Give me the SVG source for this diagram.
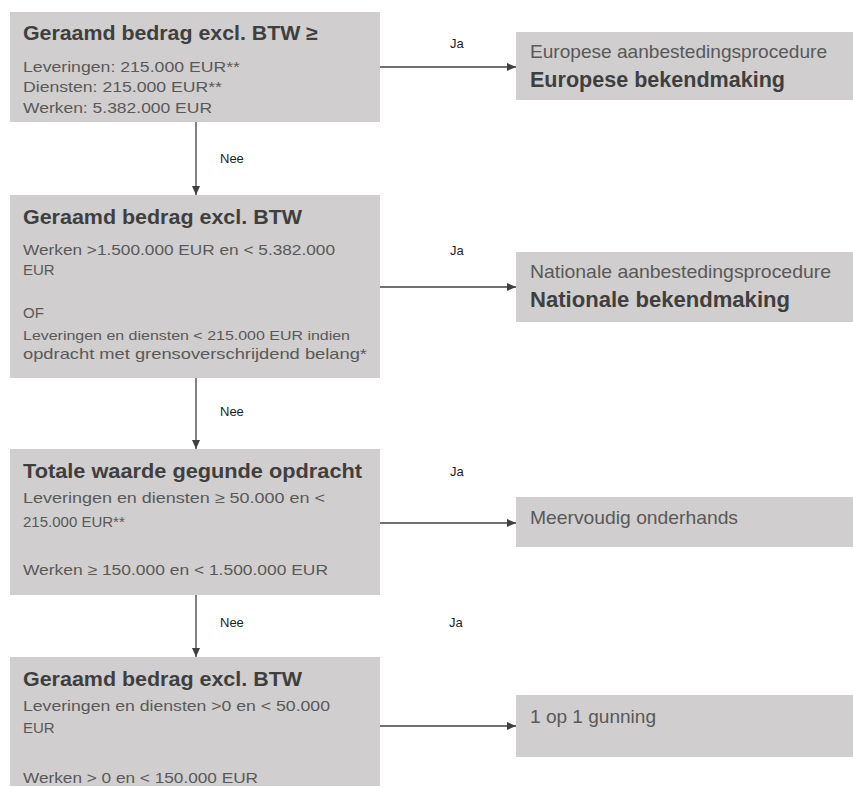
<svg xmlns="http://www.w3.org/2000/svg" width="853" height="787" viewBox="0 0 853 787">
<defs>
<style>
.box{fill:#d0cece}
.t{font-family:"Liberation Sans",Arial,sans-serif;font-weight:bold;font-size:20px;fill:#3f3f3f}
.b{font-family:"Liberation Sans",Arial,sans-serif;font-size:15px;fill:#595959}
.s{font-family:"Liberation Sans",Arial,sans-serif;font-size:13.5px;fill:#595959}
.rr{font-family:"Liberation Sans",Arial,sans-serif;font-size:18.5px;fill:#595959}
.rb{font-family:"Liberation Sans",Arial,sans-serif;font-weight:bold;font-size:22px;fill:#3f3f3f}
.lbl{font-family:"Liberation Sans",Arial,sans-serif;font-size:13px;fill:#1e1e1e}
.c{stroke:#404040;stroke-width:1.3;fill:none}
</style>
<marker id="ah" markerWidth="9" markerHeight="8" refX="9" refY="4" orient="auto" markerUnits="userSpaceOnUse">
<path d="M0,0 L9,4 L0,8 Z" fill="#404040"/>
</marker>
</defs>
<rect width="853" height="787" fill="#ffffff"/>

<g id="connectors">
<line class="c" x1="196" y1="122" x2="196" y2="195" marker-end="url(#ah)"/>
<line class="c" x1="196" y1="378" x2="196" y2="449" marker-end="url(#ah)"/>
<line class="c" x1="196" y1="595" x2="196" y2="657" marker-end="url(#ah)"/>
<line class="c" x1="380" y1="67" x2="516" y2="67" marker-end="url(#ah)"/>
<line class="c" x1="380" y1="287" x2="516" y2="287" marker-end="url(#ah)"/>
<line class="c" x1="380" y1="523" x2="516" y2="523" marker-end="url(#ah)"/>
<line class="c" x1="380" y1="726" x2="516" y2="726" marker-end="url(#ah)"/>
<text class="lbl" x="220" y="163">Nee</text>
<text class="lbl" x="220" y="416">Nee</text>
<text class="lbl" x="220" y="627">Nee</text>
<text class="lbl" x="450" y="48">Ja</text>
<text class="lbl" x="450" y="255">Ja</text>
<text class="lbl" x="450" y="476">Ja</text>
<text class="lbl" x="449" y="627">Ja</text>
</g>

<g id="node-eu-drempel">
<rect class="box" x="10" y="12" width="370" height="110"/>
<text class="t" x="23" y="40" textLength="295" lengthAdjust="spacingAndGlyphs">Geraamd bedrag excl. BTW ≥</text>
<text class="b" x="23" y="72" textLength="217" lengthAdjust="spacingAndGlyphs">Leveringen: 215.000 EUR**</text>
<text class="b" x="23" y="92" textLength="199" lengthAdjust="spacingAndGlyphs">Diensten: 215.000 EUR**</text>
<text class="b" x="23" y="113" textLength="189" lengthAdjust="spacingAndGlyphs">Werken: 5.382.000 EUR</text>
</g>

<g id="node-nationaal">
<rect class="box" x="10" y="195" width="370" height="183"/>
<text class="t" x="23" y="224" textLength="279" lengthAdjust="spacingAndGlyphs">Geraamd bedrag excl. BTW</text>
<text class="b" x="23" y="255" textLength="312" lengthAdjust="spacingAndGlyphs">Werken &gt;1.500.000 EUR en &lt; 5.382.000</text>
<text class="b" x="23" y="275">EUR</text>
<text class="b" x="23" y="318">OF</text>
<text class="s" x="23" y="340" textLength="327" lengthAdjust="spacingAndGlyphs">Leveringen en diensten &lt; 215.000 EUR indien</text>
<text class="b" x="23" y="359" textLength="344" lengthAdjust="spacingAndGlyphs">opdracht met grensoverschrijdend belang*</text>
</g>

<g id="node-meervoudig-drempel">
<rect class="box" x="10" y="449" width="370" height="146"/>
<text class="t" x="23" y="478" textLength="339" lengthAdjust="spacingAndGlyphs">Totale waarde gegunde opdracht</text>
<text class="b" x="23" y="503" textLength="302" lengthAdjust="spacingAndGlyphs">Leveringen en diensten ≥ 50.000  en &lt;</text>
<text class="b" x="23" y="527">215.000 EUR**</text>
<text class="b" x="23" y="575" textLength="305" lengthAdjust="spacingAndGlyphs">Werken ≥ 150.000  en &lt; 1.500.000 EUR</text>
</g>

<g id="node-enkelvoudig-drempel">
<rect class="box" x="10" y="657" width="370" height="129"/>
<text class="t" x="23" y="686" textLength="279" lengthAdjust="spacingAndGlyphs">Geraamd bedrag excl. BTW</text>
<text class="b" x="23" y="711" textLength="307" lengthAdjust="spacingAndGlyphs">Leveringen en diensten &gt;0 en &lt; 50.000</text>
<text class="b" x="23" y="733">EUR</text>
<text class="b" x="23" y="783" textLength="235" lengthAdjust="spacingAndGlyphs">Werken &gt; 0 en &lt; 150.000 EUR</text>
</g>

<g id="node-europees">
<rect class="box" x="516" y="32" width="337" height="68"/>
<text class="rr" x="530" y="58" textLength="297" lengthAdjust="spacingAndGlyphs">Europese aanbestedingsprocedure</text>
<text class="rb" x="530" y="87" textLength="255" lengthAdjust="spacingAndGlyphs">Europese bekendmaking</text>
</g>

<g id="node-nationaal-resultaat">
<rect class="box" x="516" y="252" width="337" height="70"/>
<text class="rr" x="530" y="278" textLength="301" lengthAdjust="spacingAndGlyphs">Nationale aanbestedingsprocedure</text>
<text class="rb" x="530" y="307" textLength="260" lengthAdjust="spacingAndGlyphs">Nationale bekendmaking</text>
</g>

<g id="node-meervoudig">
<rect class="box" x="516" y="497" width="337" height="50"/>
<text class="rr" x="530" y="524" textLength="208" lengthAdjust="spacingAndGlyphs">Meervoudig onderhands</text>
</g>

<g id="node-enkelvoudig">
<rect class="box" x="516" y="695" width="337" height="62"/>
<text class="rr" x="530" y="723" textLength="126" lengthAdjust="spacingAndGlyphs">1 op 1 gunning</text>
</g>
</svg>
